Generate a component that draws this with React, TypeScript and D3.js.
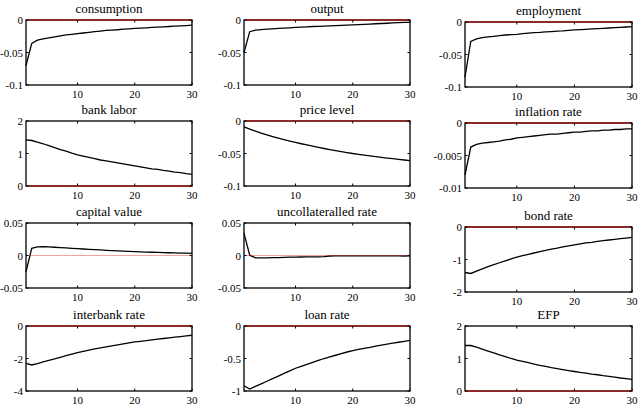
import React from "react";
import * as d3 from "d3";

// impulse responses, periods 1..30
const periods = d3.range(1, 31);

const consumption = [-0.070, -0.036, -0.031, -0.029, -0.0275, -0.026, -0.0245, -0.023, -0.022, -0.021,
  -0.020, -0.019, -0.018, -0.017, -0.016, -0.0155, -0.015, -0.014, -0.0135, -0.013,
  -0.0125, -0.012, -0.0115, -0.011, -0.0105, -0.010, -0.0095, -0.009, -0.0085, -0.008];
const output = [-0.050, -0.018, -0.0155, -0.0148, -0.014, -0.0135, -0.013, -0.0125, -0.012, -0.0115,
  -0.011, -0.0105, -0.010, -0.0097, -0.0093, -0.009, -0.0086, -0.0082, -0.0078, -0.0074,
  -0.007, -0.0066, -0.0062, -0.0058, -0.0054, -0.005, -0.0045, -0.004, -0.0037, -0.0035];
const employment = [-0.085, -0.030, -0.026, -0.024, -0.023, -0.022, -0.021, -0.020, -0.0195, -0.019,
  -0.018, -0.0172, -0.0165, -0.016, -0.0153, -0.0147, -0.014, -0.0135, -0.0128, -0.0122,
  -0.0117, -0.0112, -0.0107, -0.0102, -0.0097, -0.0092, -0.0087, -0.0082, -0.0077, -0.0072];
const bankLabor = [1.42, 1.40, 1.35, 1.30, 1.24, 1.18, 1.12, 1.07, 1.01, 0.96,
  0.92, 0.88, 0.84, 0.80, 0.77, 0.74, 0.71, 0.68, 0.65, 0.62,
  0.59, 0.56, 0.53, 0.51, 0.48, 0.46, 0.43, 0.41, 0.38, 0.36];
const priceLevel = [-0.0090, -0.0124, -0.0156, -0.0186, -0.0214, -0.0240, -0.0264, -0.0287, -0.0309, -0.0330,
  -0.0350, -0.0369, -0.0388, -0.0406, -0.0423, -0.0439, -0.0455, -0.0470, -0.0485, -0.0500,
  -0.0513, -0.0525, -0.0537, -0.0549, -0.0560, -0.0570, -0.0580, -0.0590, -0.0600, -0.0610];
const inflationRate = [-0.0080, -0.0037, -0.0033, -0.0031, -0.0030, -0.0029, -0.0028, -0.0026, -0.0025, -0.0023,
  -0.0022, -0.0021, -0.0020, -0.0019, -0.0018, -0.0017, -0.0017, -0.0016, -0.0015, -0.0014,
  -0.0014, -0.0013, -0.0012, -0.0012, -0.0011, -0.0011, -0.0010, -0.0010, -0.0009, -0.0009];
const capitalValue = [-0.025, 0.011, 0.0133, 0.0135, 0.0132, 0.0127, 0.0121, 0.0116, 0.011, 0.0105,
  0.0100, 0.0095, 0.0090, 0.0085, 0.0080, 0.0076, 0.0071, 0.0067, 0.0063, 0.0059,
  0.0056, 0.0053, 0.0050, 0.0047, 0.0045, 0.0042, 0.0040, 0.0038, 0.0036, 0.0034];
const uncollRate = [0.034, 0.0005, -0.0035, -0.0035, -0.0035, -0.0034, -0.0033, -0.0028, -0.0025, -0.0024,
  -0.0023, -0.0022, -0.0021, -0.0020, -0.0018, -0.0008, -0.0006, -0.0005, -0.0005, -0.0005,
  -0.0005, -0.0005, -0.0005, -0.0005, -0.0005, -0.0005, -0.0005, -0.0006, -0.0008, -0.0005];
const bondRate = [-1.40, -1.43, -1.36, -1.29, -1.22, -1.16, -1.10, -1.04, -0.98, -0.93,
  -0.88, -0.84, -0.80, -0.76, -0.72, -0.68, -0.65, -0.61, -0.58, -0.55,
  -0.52, -0.49, -0.47, -0.44, -0.42, -0.40, -0.38, -0.36, -0.34, -0.32];
const interbankRate = [-2.30, -2.40, -2.31, -2.21, -2.11, -2.03, -1.93, -1.83, -1.73, -1.64,
  -1.56, -1.48, -1.41, -1.35, -1.28, -1.22, -1.16, -1.10, -1.04, -0.98,
  -0.94, -0.90, -0.85, -0.81, -0.77, -0.73, -0.69, -0.65, -0.61, -0.57];
const loanRate = [-0.92, -0.97, -0.93, -0.89, -0.85, -0.81, -0.77, -0.73, -0.69, -0.65,
  -0.62, -0.59, -0.56, -0.53, -0.50, -0.475, -0.45, -0.425, -0.40, -0.38,
  -0.36, -0.345, -0.33, -0.31, -0.295, -0.28, -0.265, -0.25, -0.235, -0.22];
const efp = [1.40, 1.40, 1.35, 1.29, 1.23, 1.17, 1.11, 1.06, 1.00, 0.95,
  0.91, 0.87, 0.83, 0.79, 0.76, 0.72, 0.69, 0.66, 0.63, 0.60,
  0.57, 0.55, 0.52, 0.50, 0.47, 0.45, 0.43, 0.40, 0.38, 0.36];

const titles = ["consumption", "output", "employment", "bank labor", "price level", "inflation rate",
  "capital value", "uncollateralled rate", "bond rate", "interbank rate", "loan rate", "EFP"];
const series = [consumption, output, employment, bankLabor, priceLevel, inflationRate,
  capitalValue, uncollRate, bondRate, interbankRate, loanRate, efp];
const yTicks = [
  [-0.1, -0.05, 0], [-0.1, -0.05, 0], [-0.1, -0.05, 0],
  [0, 1, 2], [-0.1, -0.05, 0], [-0.01, -0.005, 0],
  [-0.05, 0, 0.05], [-0.05, 0, 0.05], [-2, -1, 0],
  [-4, -2, 0], [-1, -0.5, 0], [0, 1, 2],
];
const xTicks = [10, 20, 30];

// panel geometry
const cols = [[26, 192], [244, 410], [465, 632]];
const rows = [[20, 85], [121, 186], [223, 288], [326, 391]];
const col3Shift = [2, 2, 4, 0];

const serif = "'Liberation Serif', 'Times New Roman', Times, serif";
const fmt = (v: number) => (v === 0 ? "0" : String(v));

function Panel({ idx }: { idx: number }) {
  const r = Math.floor(idx / 3);
  const c = idx % 3;
  const [x0, x1] = cols[c];
  const shift = c === 2 ? col3Shift[r] : 0;
  const y0 = rows[r][0] + shift;
  const y1 = rows[r][1] + shift;
  const ticks = yTicks[idx];
  const x = d3.scaleLinear().domain([1, 30]).range([x0, x1]);
  const y = d3.scaleLinear().domain([ticks[0], ticks[2]]).range([y1, y0]);
  const line = d3.line<number>().x((_, i) => x(periods[i])).y((d) => y(d));
  const tl = 2.5;
  return (
    <g>
      <text x={(x0 + x1) / 2} y={y0 - 7} textAnchor="middle" fontSize={13} style={{ fontFamily: serif }}>
        {titles[idx]}
      </text>
      <path d={line(series[idx]) || ""} fill="none" stroke="#000" strokeWidth={1.3} />
      {/* steady-state reference line */}
      <line x1={x0} x2={x1} y1={y(0)} y2={y(0)} stroke="#e02020" strokeWidth={1} opacity={0.4} />
      <rect x={x0} y={y0} width={x1 - x0} height={y1 - y0} fill="none" stroke="#000" strokeWidth={1.3} />
      {y(0) === y0 || y(0) === y1 ? (
        <line x1={x0} x2={x1} y1={y(0)} y2={y(0)} stroke="#b01818" strokeWidth={1.3} opacity={0.8} />
      ) : null}
      {xTicks.map((t) => (
        <g key={"x" + t}>
          <line x1={x(t)} x2={x(t)} y1={y1} y2={y1 - tl} stroke="#000" />
          <line x1={x(t)} x2={x(t)} y1={y0} y2={y0 + tl} stroke="#000" />
          <text x={x(t)} y={y1 + 13} textAnchor="middle" fontSize={11} style={{ fontFamily: serif }}>{t}</text>
        </g>
      ))}
      {ticks.map((t) => (
        <g key={"y" + t}>
          <line x1={x0} x2={x0 + tl} y1={y(t)} y2={y(t)} stroke="#000" />
          <line x1={x1} x2={x1 - tl} y1={y(t)} y2={y(t)} stroke="#000" />
          <text x={x0 - 3} y={y(t) + 4} textAnchor="end" fontSize={11} style={{ fontFamily: serif }}>{fmt(t)}</text>
        </g>
      ))}
    </g>
  );
}

export default function App() {
  return (
    <svg width={643} height={418} style={{ position: "absolute", left: 0, top: 0, background: "#fff" }}>
      {titles.map((_, i) => <Panel key={i} idx={i} />)}
    </svg>
  );
}
